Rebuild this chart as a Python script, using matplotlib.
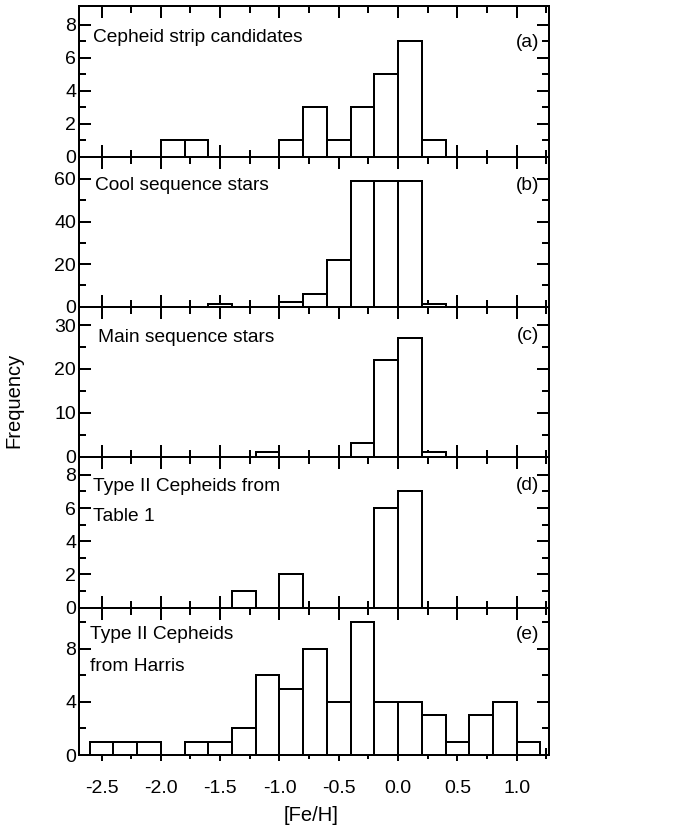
import matplotlib
matplotlib.use("Agg")
import matplotlib.pyplot as plt
from matplotlib.ticker import FixedLocator

plt.rcParams["font.family"] = ["Liberation Sans", "DejaVu Sans"]
plt.rcParams["font.size"] = 14
plt.rcParams["axes.unicode_minus"] = False

# Left edges of the 0.2 dex [Fe/H] bins
bin_left = [-2.6, -2.4, -2.2, -2.0, -1.8, -1.6, -1.4, -1.2, -1.0, -0.8,
            -0.6, -0.4, -0.2, 0.0, 0.2, 0.4, 0.6, 0.8, 1.0]
bin_width = 0.2

# Counts per bin for each sample
cepheid_strip = [0, 0, 0, 1, 1, 0, 0, 0, 1, 3, 1, 3, 5, 7, 1, 0, 0, 0, 0]
cool_sequence = [0, 0, 0, 0, 0, 1, 0, 0, 2, 6, 22, 59, 59, 59, 1, 0, 0, 0, 0]
main_sequence = [0, 0, 0, 0, 0, 0, 0, 1, 0, 0, 0, 3, 22, 27, 1, 0, 0, 0, 0]
t2cep_table1 = [0, 0, 0, 0, 0, 0, 1, 0, 2, 0, 0, 0, 6, 7, 0, 0, 0, 0, 0]
t2cep_harris = [1, 1, 1, 0, 1, 1, 2, 6, 5, 8, 4, 10, 4, 4, 3, 1, 3, 4, 1]

panel_titles = [["Cepheid strip candidates"],
                ["Cool sequence stars"],
                ["Main sequence stars"],
                ["Type II Cepheids from", "Table 1"],
                ["Type II Cepheids", "from Harris"]]
panel_tags = ["(a)", "(b)", "(c)", "(d)", "(e)"]

x_major = [-2.5, -2.0, -1.5, -1.0, -0.5, 0.0, 0.5, 1.0]
x_minor = [-2.25, -1.75, -1.25, -0.75, -0.25, 0.25, 0.75, 1.25]
x_tick_labels = ["-2.5", "-2.0", "-1.5", "-1.0", "-0.5", "0.0", "0.5", "1.0"]

y_major = [[0, 2, 4, 6, 8], [0, 20, 40, 60], [0, 10, 20, 30], [0, 2, 4, 6, 8], [0, 4, 8]]
y_minor = [[1, 3, 5, 7], [10, 30, 50], [5, 15, 25], [1, 3, 5, 7], [2, 6, 10]]
y_top = [9.15, 70.5, 34.2, 9.1, 11.1]

series = [cepheid_strip, cool_sequence, main_sequence, t2cep_table1, t2cep_harris]

px = 0.72  # points per pixel at 100 dpi
lw = 2 * px
text_size = 13.8

fig = plt.figure(figsize=(6.78, 8.30), dpi=100)
gs = fig.add_gridspec(5, 1, left=79 / 678, right=549.3 / 678,
                      top=1 - 6 / 830, bottom=1 - 755 / 830, hspace=0,
                      height_ratios=[150.7, 150, 150, 151, 147.5])

title_y = [(0.794,), (0.811,), (0.793,), (0.805, 0.60), (0.818, 0.60)]
tag_y = [0.755, 0.811, 0.81, 0.81, 0.818]
title_x = [0.030, 0.034, 0.040, 0.030, 0.023]

for i, counts in enumerate(series):
    ax = fig.add_subplot(gs[i])
    xs = [b for b, c in zip(bin_left, counts) if c > 0]
    hs = [c for c in counts if c > 0]
    ax.bar(xs, hs, width=bin_width, align="edge", facecolor="white",
           edgecolor="black", linewidth=lw, zorder=2)
    ax.set_xlim(-2.69, 1.275)
    ax.set_ylim(0, y_top[i])
    ax.xaxis.set_major_locator(FixedLocator(x_major))
    ax.xaxis.set_minor_locator(FixedLocator(x_minor))
    ax.yaxis.set_major_locator(FixedLocator(y_major[i]))
    ax.yaxis.set_minor_locator(FixedLocator(y_minor[i]))
    ax.set_yticklabels([str(v) for v in y_major[i]])
    for s in ax.spines.values():
        s.set_linewidth(lw)
        s.set_zorder(3)
    ax.tick_params(which="both", direction="in", top=True, right=True,
                   width=lw, labelbottom=False, labelsize=14)
    ax.tick_params(which="major", length=12 * px)
    ax.tick_params(which="minor", length=7 * px)
    ax.tick_params(axis="y", pad=3 * px)

    for line, ty in zip(panel_titles[i], title_y[i]):
        ax.text(title_x[i], ty, line, transform=ax.transAxes,
                ha="left", va="center", fontsize=text_size)
    ax.text(0.978, tag_y[i], panel_tags[i], transform=ax.transAxes,
            ha="right", va="center", fontsize=text_size)

    if i == len(series) - 1:
        sec = ax.secondary_xaxis("bottom")
        sec.xaxis.set_major_locator(FixedLocator(x_major))
        sec.xaxis.set_minor_locator(FixedLocator(x_minor))
        sec.set_xticklabels(x_tick_labels)
        sec.spines["bottom"].set_linewidth(lw)
        sec.tick_params(which="both", direction="out", width=lw, labelsize=14)
        sec.tick_params(which="major", length=6 * px, pad=19 * px)
        sec.tick_params(which="minor", length=4 * px)

fig.text(0.021, 0.518, "Frequency", rotation=90, ha="center", va="center",
         fontsize=14.5)
fig.text(0.459, 0.018, "[Fe/H]", ha="center", va="center", fontsize=14.5)

fig.savefig("out.png", dpi=100)
